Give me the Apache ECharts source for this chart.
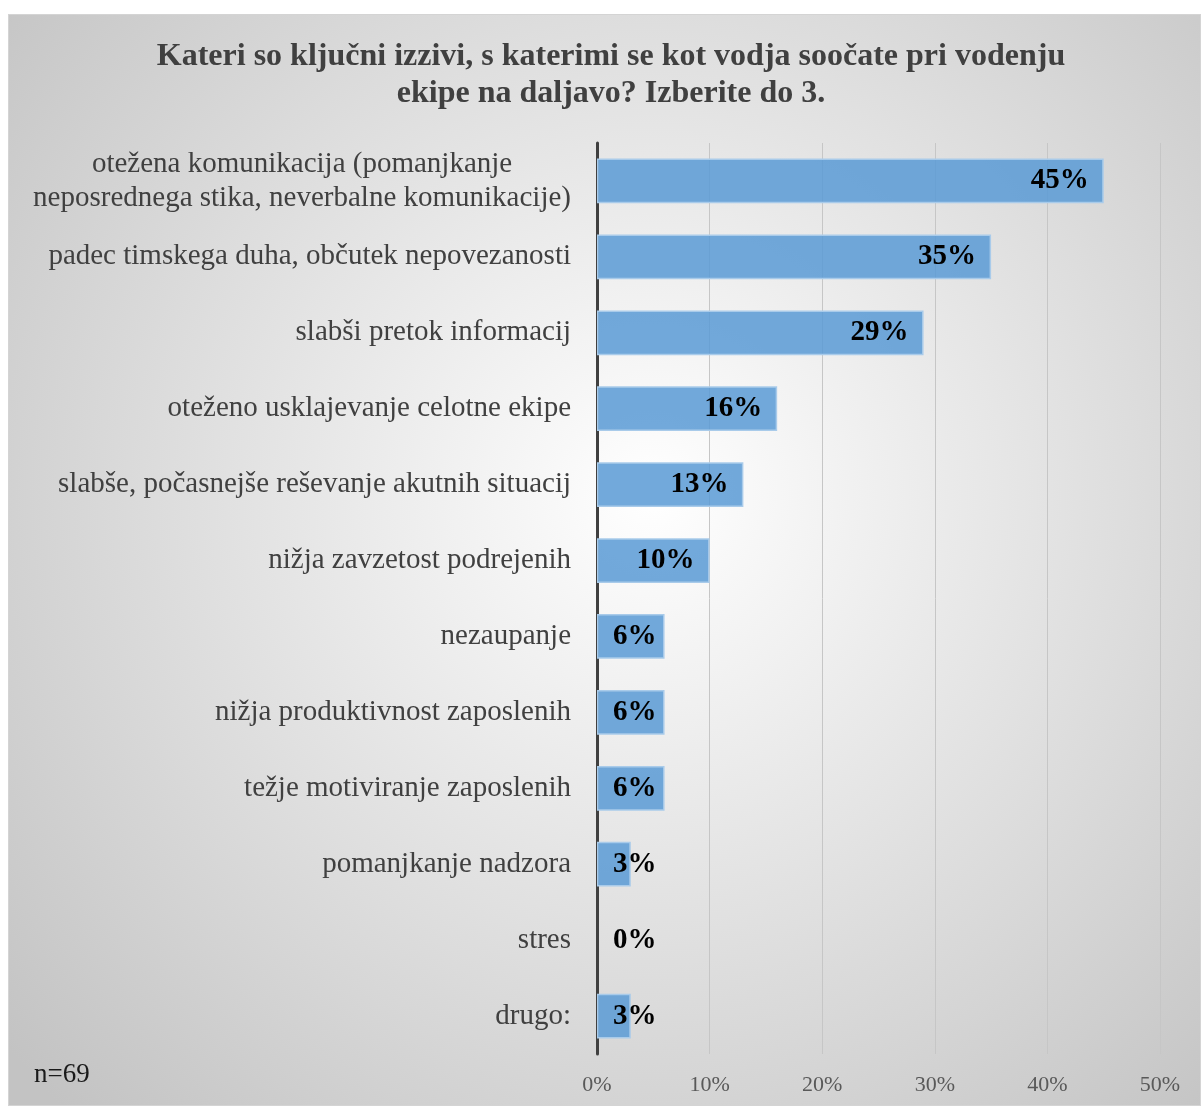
<!DOCTYPE html>
<html>
<head>
<meta charset="utf-8">
<script src="https://cdn.jsdelivr.net/npm/echarts@6/dist/echarts.min.js"></script>
<style>
  html, body { margin: 0; padding: 0; background: #ffffff; }
  #chart {
    position: absolute; left: 8px; top: 14px;
    width: 1193px; height: 1092px;
    box-sizing: border-box; border: 1px solid #d4d4d4;
  }
</style>
</head>
<body>
<div id="chart"></div>
<script>
// Survey answers, top to bottom
const categories = [
  'otežena komunikacija (pomanjkanje\nneposrednega stika, neverbalne komunikacije)',
  'padec timskega duha, občutek nepovezanosti',
  'slabši pretok informacij',
  'oteženo usklajevanje celotne ekipe',
  'slabše, počasnejše reševanje akutnih situacij',
  'nižja zavzetost podrejenih',
  'nezaupanje',
  'nižja produktivnost zaposlenih',
  'težje motiviranje zaposlenih',
  'pomanjkanje nadzora',
  'stres',
  'drugo:'
];
// Share of respondents (%)
const shares = [45, 35, 29, 16, 13, 10, 6, 6, 6, 3, 0, 3];
const axisTicks = [0, 10, 20, 30, 40, 50];
const titleText = 'Kateri so ključni izzivi, s katerimi se kot vodja soočate pri vodenju\nekipe na daljavo? Izberite do 3.';
const sampleNote = 'n=69';

const serif = '"Liberation Serif", "Times New Roman", serif';

// Short bars get their label anchored near the axis instead of inside the end;
// empty bars get no outline
const barData = shares.map(v => {
  if (v <= 6) {
    const item = { value: v, label: { position: 'insideLeft', distance: 16 } };
    if (v === 0) item.itemStyle = { borderWidth: 0 };
    return item;
  }
  return v;
});

const chart = echarts.init(document.getElementById('chart'), null, { renderer: 'canvas' });
chart.setOption({
  backgroundColor: {
    type: 'radial', x: 0.54, y: 0.44, r: 0.78,
    colorStops: [
      { offset: 0, color: '#ffffff' },
      { offset: 1, color: '#c3c3c3' }
    ]
  },
  animation: false,
  graphic: [
    {
      type: 'text', x: 602, y: 23,
      style: {
        text: titleText, fill: '#404040',
        font: 'bold 32px ' + serif,
        align: 'center', textAlign: 'center', lineHeight: 37
      }
    },
    {
      type: 'text', x: 25, y: 1046,
      style: { text: sampleNote, fill: '#1a1a1a', font: '27px ' + serif }
    }
  ],
  grid: { left: 588, right: 40, top: 128, bottom: 51, containLabel: false },
  xAxis: {
    type: 'value', min: axisTicks[0], max: axisTicks[axisTicks.length - 1],
    interval: axisTicks[1] - axisTicks[0],
    axisLine: { show: false },
    axisTick: { show: false },
    splitLine: { show: true, lineStyle: { color: '#c6c6c6', width: 1 } },
    axisLabel: {
      formatter: '{value}%', margin: 20,
      color: '#595959', fontFamily: serif, fontSize: 22
    }
  },
  yAxis: {
    type: 'category', data: categories, inverse: true,
    axisLine: { show: true, lineStyle: { color: '#404040', width: 3 } },
    axisTick: { show: false },
    axisLabel: {
      margin: 26, align: 'right',
      formatter: v => v.split('\n').map(s => '{c|' + s + '}').join('\n'),
      rich: {
        c: {
          align: 'center', color: '#404040',
          fontFamily: serif, fontSize: 29, lineHeight: 34
        }
      }
    }
  },
  series: [{
    type: 'bar', data: barData,
    barCategoryGap: '41%',
    itemStyle: {
      color: 'rgba(91,155,213,0.86)',
      borderColor: '#a9cbea', borderWidth: 1.5
    },
    label: {
      show: true, position: 'insideRight', distance: 15,
      formatter: '{c}%', color: '#000000',
      fontFamily: serif, fontWeight: 'bold', fontSize: 29
    }
  }]
});
</script>
</body>
</html>
